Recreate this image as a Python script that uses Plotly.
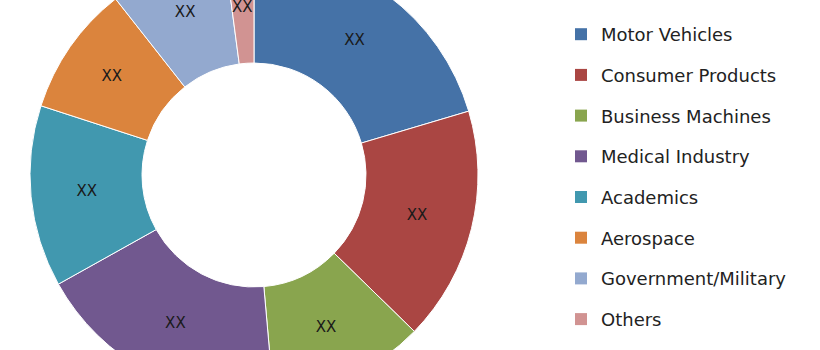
import math
import plotly.graph_objects as go

categories = ["Motor Vehicles", "Consumer Products", "Business Machines", "Medical Industry",
              "Academics", "Aerospace", "Government/Military", "Others"]
shares = [20.4, 16.9, 11.3, 18.3, 13.1, 9.4, 8.5, 2.1]
slice_labels = ["XX"] * 8
colors = ["#4572A7", "#AA4643", "#89A54E", "#71588F", "#4198AF", "#DB843D", "#93A9CF", "#D19392"]

FONT = "DejaVu Sans"
SHIFT = 49   # page is shifted up so the donut is cropped at the top like the reference
FIG_W, FIG_H = 820, 448
DOM_X = [30 / FIG_W, 478 / FIG_W]
HOLE = 0.5

# the tiny last slice keeps a full-size label (as in the reference), placed as an annotation
positions = ["inside"] * (len(categories) - 1) + ["none"]

fig = go.Figure()
fig.add_trace(go.Pie(
    labels=categories, values=shares, text=slice_labels,
    textinfo="text", textposition=positions, insidetextorientation="horizontal",
    textfont=dict(family=FONT, size=15, color="#1a1a1a"),
    hole=HOLE, sort=False, direction="clockwise", rotation=0,
    marker=dict(colors=colors, line=dict(color="white", width=1)),
    domain=dict(x=DOM_X, y=[0, 1]),
    showlegend=False, hoverinfo="skip",
))
for i, (cat, col) in enumerate(zip(categories, colors)):
    fig.add_trace(go.Scatter(
        x=[None], y=[None], mode="markers", name=cat,
        marker=dict(symbol="square", size=11, color=col),
        legendgroup=f"g{i}", showlegend=True,
    ))

# label position for the last slice, from the data
total = sum(shares)
mid = (sum(shares[:-1]) + shares[-1] / 2) / total * 2 * math.pi
cx, cy = (DOM_X[0] + DOM_X[1]) / 2 * FIG_W, FIG_H / 2
R = FIG_H / 2
rm = R * (1 + HOLE) / 2
ax = (cx + rm * math.sin(mid)) / FIG_W
ay = 1 - (cy - rm * math.cos(mid)) / FIG_H
fig.add_annotation(x=ax, y=ay, xref="paper", yref="paper", xanchor="center", yanchor="middle",
                   text=slice_labels[-1], showarrow=False,
                   font=dict(family=FONT, size=15, color="#1a1a1a"))

fig.update_layout(
    width=FIG_W, height=FIG_H,
    margin=dict(l=0, r=0, t=0, b=0),
    paper_bgcolor="white", plot_bgcolor="white",
    xaxis=dict(visible=False), yaxis=dict(visible=False),
    legend=dict(
        x=561 / FIG_W, xanchor="left", y=1 - (SHIFT + 16) / FIG_H, yanchor="top",
        font=dict(family=FONT, size=18, color="#222222"),
        tracegroupgap=14.3, itemsizing="constant", bgcolor="rgba(0,0,0,0)",
    ),
)

fig.write_html("out.html", post_script=f"document.getElementById('{{plot_id}}').style.marginTop='-{SHIFT}px';")
